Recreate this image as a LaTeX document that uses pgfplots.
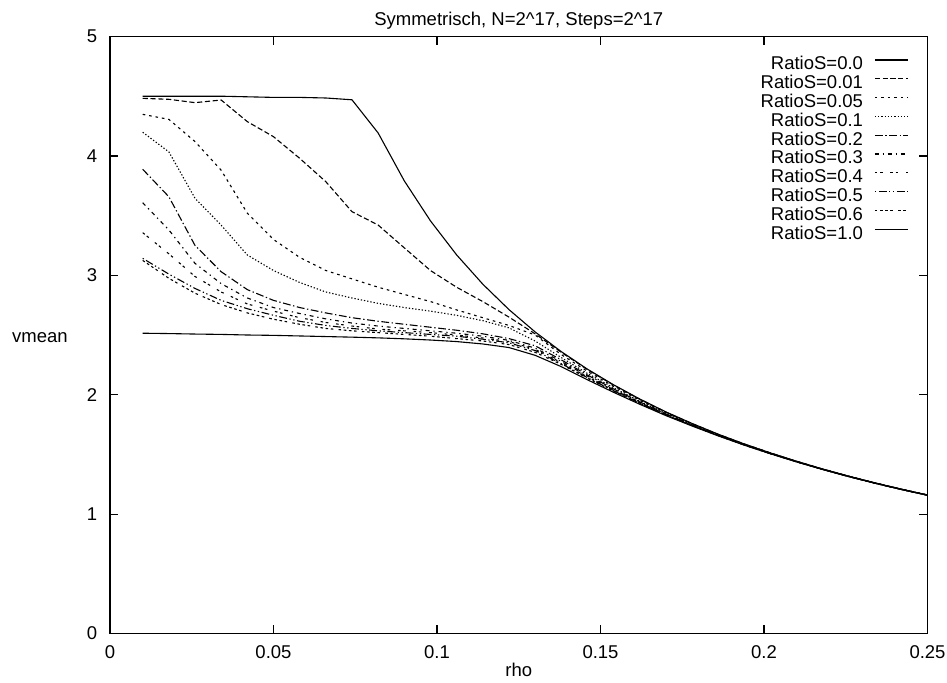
\documentclass[border=0pt]{standalone}
\usepackage{pgfplots}
\usepackage{pgfplotstable}
\pgfplotsset{compat=1.18}
\usepackage{fontspec}
\setmainfont{Liberation Sans}

\pgfplotstableread{
rho   s00   s001  s005  s01   s02   s03   s04   s05   s06   s10
0.010 4.500 4.482 4.348 4.198 3.888 3.608 3.357 3.142 3.125 2.515
0.018 4.500 4.474 4.306 4.034 3.658 3.380 3.180 3.010 2.975 2.512
0.026 4.500 4.446 4.120 3.645 3.250 3.100 2.990 2.890 2.850 2.508
0.034 4.500 4.468 3.880 3.420 3.030 2.930 2.860 2.790 2.755 2.505
0.042 4.495 4.287 3.520 3.170 2.880 2.810 2.760 2.720 2.685 2.500
0.050 4.490 4.161 3.300 3.040 2.790 2.730 2.700 2.665 2.632 2.497
0.058 4.490 3.980 3.150 2.940 2.730 2.680 2.645 2.615 2.590 2.492
0.066 4.485 3.784 3.040 2.860 2.685 2.635 2.605 2.580 2.555 2.487
0.074 4.470 3.533 2.970 2.810 2.645 2.600 2.575 2.555 2.535 2.482
0.082 4.192 3.421 2.900 2.765 2.615 2.575 2.550 2.535 2.520 2.476
0.090 3.791 3.230 2.840 2.730 2.590 2.555 2.535 2.520 2.505 2.468
0.098 3.456 3.040 2.780 2.700 2.565 2.535 2.520 2.505 2.490 2.458
0.106 3.171 2.900 2.710 2.665 2.540 2.515 2.500 2.490 2.470 2.445
0.114 2.926 2.780 2.645 2.620 2.510 2.490 2.475 2.465 2.450 2.425
0.122 2.713 2.650 2.580 2.560 2.470 2.455 2.445 2.435 2.420 2.395
0.130 2.526 2.510 2.500 2.450 2.410 2.390 2.380 2.370 2.355 2.330
0.138 2.361 2.355 2.336 2.311 2.292 2.279 2.269 2.260 2.254 2.235
0.146 2.214 2.210 2.196 2.178 2.165 2.156 2.149 2.143 2.138 2.125
0.154 2.083 2.080 2.070 2.058 2.048 2.042 2.037 2.033 2.029 2.020
0.162 1.964 1.962 1.955 1.946 1.940 1.935 1.932 1.929 1.927 1.920
0.170 1.856 1.854 1.850 1.844 1.839 1.836 1.833 1.831 1.830 1.825
0.178 1.759 1.758 1.755 1.751 1.747 1.745 1.744 1.742 1.741 1.738
0.186 1.669 1.668 1.666 1.663 1.661 1.660 1.659 1.658 1.657 1.655
0.194 1.587 1.587 1.585 1.583 1.582 1.581 1.580 1.579 1.579 1.577
0.202 1.512 1.512 1.511 1.509 1.508 1.507 1.507 1.506 1.506 1.505
0.210 1.442 1.442 1.441 1.440 1.439 1.439 1.438 1.438 1.438 1.437
0.218 1.377 1.377 1.376 1.375 1.375 1.374 1.374 1.374 1.374 1.373
0.226 1.317 1.317 1.316 1.315 1.315 1.314 1.314 1.314 1.314 1.313
0.234 1.261 1.261 1.260 1.260 1.259 1.259 1.259 1.259 1.258 1.258
0.242 1.209 1.209 1.208 1.208 1.207 1.207 1.207 1.207 1.206 1.206
0.250 1.160 1.160 1.160 1.159 1.159 1.159 1.159 1.158 1.158 1.158
}\datatable

\begin{document}
\begin{tikzpicture}[font=\fontsize{9.25}{11}\selectfont]
\path[use as bounding box] (-55pt,-24.25pt) rectangle (418.5pt,316.75pt);
\begin{axis}[
  at={(0,0)}, anchor=south west,
  scale only axis, width=408.75pt, height=298.5pt,
  xmin=0, xmax=0.25, ymin=0, ymax=5,
  xtick={0,0.05,0.1,0.15,0.2,0.25},
  ytick={0,1,2,3,4,5},
  tick align=inside,
  major tick length=4.2pt,
  axis line style={line width=0.8pt},
  tick style={black, line width=0.6pt},
  /pgf/number format/assume math mode=true,
  xticklabel style={/pgf/number format/fixed, /pgf/number format/precision=2, anchor=base, inner sep=0pt, yshift=-12.4pt},
  yticklabel style={anchor=east, inner sep=0pt, xshift=-6.25pt},
  title={Symmetrisch, N=2\textasciicircum17, Steps=2\textasciicircum17},
  every axis title/.style={at={(axis description cs:0.5,1)}, anchor=base, yshift=5.3pt, inner sep=0pt},
  xlabel={rho},
  every axis x label/.style={at={(axis description cs:0.5,0)}, anchor=base, yshift=-21.25pt, inner sep=0pt},
  ylabel={vmean},
  every axis y label/.style={at={(axis description cs:0,0.5)}, anchor=center, xshift=-35pt, yshift=-1.5pt, inner sep=0pt},
  legend cell align=right,
  legend plot pos=right,
  legend style={draw=none, fill=none, at={(axis description cs:0.977,0.9663)}, anchor=north east, inner sep=0pt, outer sep=0pt, nodes={inner sep=0pt, text height=6.6pt, text depth=2.8pt}, column sep=5.65pt, row sep=0pt},
  legend image code/.code={\draw[#1] (0pt,3pt) -- (16.65pt,3pt);},
  every axis plot/.append style={black, line width=0.55pt},
]
\addplot[solid] table[x=rho, y=s00] {\datatable};
\addlegendentry{RatioS=0.0}
\addplot[dash pattern=on 2.6pt off 1.3pt] table[x=rho, y=s001] {\datatable};
\addlegendentry{RatioS=0.01}
\addplot[dash pattern=on 1.3pt off 1.95pt] table[x=rho, y=s005] {\datatable};
\addlegendentry{RatioS=0.05}
\addplot[dash pattern=on 0.65pt off 0.975pt] table[x=rho, y=s01] {\datatable};
\addlegendentry{RatioS=0.1}
\addplot[dash pattern=on 3.9pt off 1.3pt on 0.65pt off 1.3pt] table[x=rho, y=s02] {\datatable};
\addlegendentry{RatioS=0.2}
\addplot[dash pattern=on 1.95pt off 1.95pt on 0.65pt off 1.95pt] table[x=rho, y=s03] {\datatable};
\addlegendentry{RatioS=0.3}
\addplot[dash pattern=on 1.3pt off 1.3pt on 1.3pt off 3.9pt] table[x=rho, y=s04] {\datatable};
\addlegendentry{RatioS=0.4}
\addplot[dash pattern=on 0.65pt off 1.3pt on 3.9pt off 1.3pt on 0.65pt off 1.3pt] table[x=rho, y=s05] {\datatable};
\addlegendentry{RatioS=0.5}
\addplot[dash pattern=on 1.3pt off 1.3pt on 1.3pt off 1.3pt on 1.3pt off 1.3pt on 1.3pt off 2.6pt] table[x=rho, y=s06] {\datatable};
\addlegendentry{RatioS=0.6}
\addplot[solid] table[x=rho, y=s10] {\datatable};
\addlegendentry{RatioS=1.0}
\end{axis}
\end{tikzpicture}
\end{document}
